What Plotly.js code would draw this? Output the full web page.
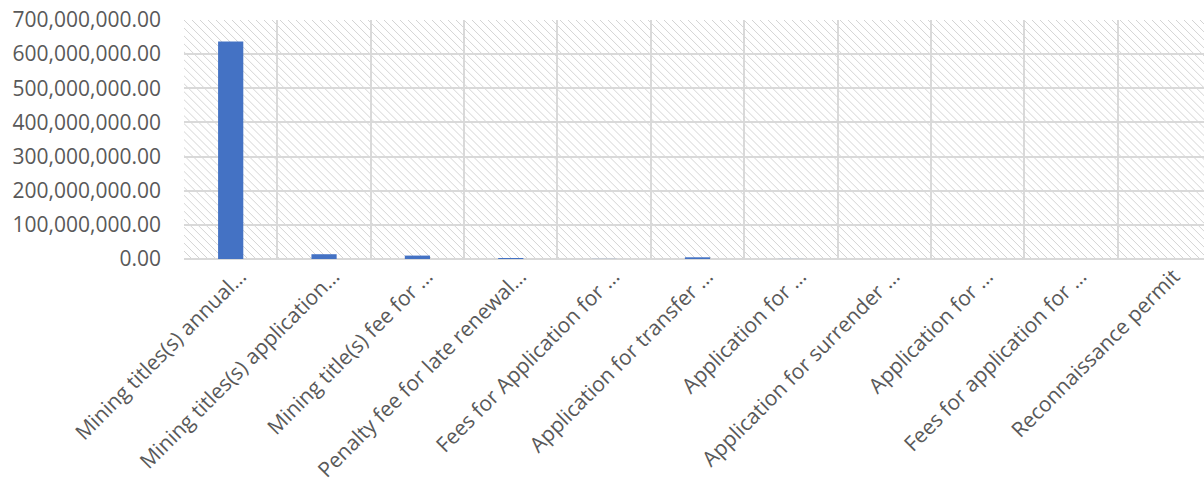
<!DOCTYPE html>
<html>
<head>
<meta charset="utf-8">
<script src="https://cdn.plot.ly/plotly-3.0.1.min.js"></script>
<style>html,body{margin:0;padding:0;background:#fff;}#chart{width:1204px;height:480px;}</style>
</head>
<body>
<div id="chart"></div>
<script>
const categories = [
  "Mining titles(s) annual…",
  "Mining titles(s) application…",
  "Mining title(s) fee for …",
  "Penalty fee for late renewal…",
  "Fees for Application for …",
  "Application for transfer …",
  "Application for …",
  "Application for surrender …",
  "Application for …",
  "Fees for application for …",
  "Reconnaissance permit"
];
const values = [637000000, 14000000, 10000000, 3000000, 300000, 5000000, 200000, 100000, 100000, 100000, 50000];
const yTicks = [0, 100000000, 200000000, 300000000, 400000000, 500000000, 600000000, 700000000];

const positions = categories.map((_, i) => i);
const labelPositions = positions.map(p => p + 0.1);

// hatch background for the plot area
let rects = '';
for (let i = 0; i < 8; i++) rects += `<rect x='${i}' y='${i}' width='1' height='1' fill='%23d4d4d4'/>`;
const svg = `<svg xmlns='http://www.w3.org/2000/svg' width='1020' height='240' viewBox='0 0 1020 240' preserveAspectRatio='none' shape-rendering='crispEdges'><defs><pattern id='h' width='8' height='8' patternUnits='userSpaceOnUse'>${rects}</pattern></defs><rect width='1020' height='240' fill='white'/><rect width='1020' height='240' fill='url(%23h)'/></svg>`;
const bgImg = 'data:image/svg+xml;utf8,' + svg.replace(/</g, '%3C').replace(/>/g, '%3E').replace(/"/g, '%22');

const trace = {
  type: 'bar',
  x: positions,
  y: values,
  width: 0.27,
  marker: {color: '#4472C4'},
  hoverinfo: 'skip'
};

const font = {family: '"Open Sans", "Noto Sans", sans-serif', size: 21, color: '#595959'};

const layout = {
  width: 1204,
  height: 480,
  margin: {l: 184, r: 0, t: 20, b: 221, pad: 0},
  paper_bgcolor: '#ffffff',
  plot_bgcolor: 'rgba(0,0,0,0)',
  showlegend: false,
  font: font,
  images: [{
    source: bgImg,
    xref: 'x domain', yref: 'y domain',
    x: 0, y: 1, sizex: 1, sizey: 1,
    xanchor: 'left', yanchor: 'top',
    sizing: 'stretch', layer: 'below'
  }],
  xaxis: {
    range: [-0.5, 10.425],
    tickmode: 'array',
    tickvals: labelPositions,
    ticktext: categories,
    tickangle: -45,
    showgrid: false,
    zeroline: false,
    showline: false,
    ticks: '',
    ticklabelstandoff: 0,
    tickfont: font,
    minor: {tickmode: 'linear', tick0: -0.5, dtick: 1, showgrid: true, gridcolor: '#d9d9d9', gridwidth: 2, ticks: ''}
  },
  yaxis: {
    range: [0, 700000000],
    tickmode: 'array',
    tickvals: yTicks,
    tickformat: ',.2f',
    showgrid: true,
    gridcolor: '#d9d9d9',
    gridwidth: 2,
    zeroline: true,
    zerolinecolor: '#d9d9d9',
    zerolinewidth: 2,
    showline: false,
    ticks: '',
    ticklabelstandoff: 22,
    tickfont: font
  },
  bargap: 0.73
};

Plotly.newPlot('chart', [trace], layout, {displayModeBar: false, staticPlot: true});
</script>
</body>
</html>
